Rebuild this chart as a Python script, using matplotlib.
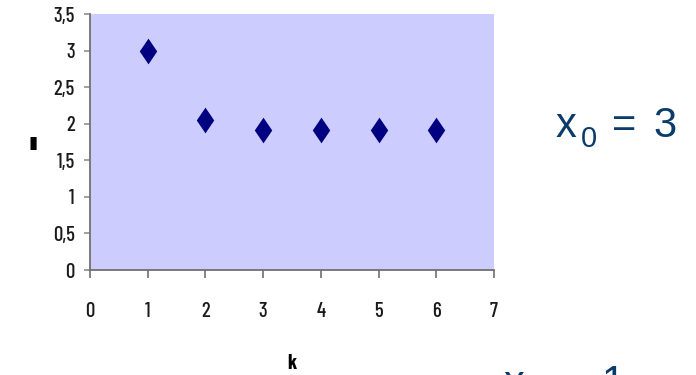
import matplotlib
matplotlib.use("Agg")
import matplotlib.pyplot as plt
from matplotlib.path import Path

# Newton iteration values x_k for k = 1..6
k_values = [1, 2, 3, 4, 5, 6]
x_values = [3.0, 2.05, 1.91, 1.91, 1.91, 1.91]

x_ticks = [0, 1, 2, 3, 4, 5, 6, 7]
y_ticks = [0, 0.5, 1, 1.5, 2, 2.5, 3, 3.5]
y_tick_labels = ["0", "0,5", "1", "1,5", "2", "2,5", "3", "3,5"]

tick_font = ["Barlow Condensed", "Liberation Sans", "DejaVu Sans"]
text_font = ["Liberation Sans", "DejaVu Sans"]
text_color = "#0B3B6B"

W, H = 696, 375
fig = plt.figure(figsize=(W / 100, H / 100), dpi=100)
ax = fig.add_axes([90 / W, 1 - 270 / H, (494 - 90) / W, (270 - 14) / H])
ax.set_facecolor("#CCCCFF")

diamond = Path([(0, 1), (0.68, 0), (0, -1), (-0.68, 0), (0, 1)],
               [Path.MOVETO, Path.LINETO, Path.LINETO, Path.LINETO, Path.CLOSEPOLY])
ax.plot(k_values, x_values, linestyle="none", marker=diamond, markersize=18.5,
        color="#000080", markeredgewidth=0)

ax.set_xlim(0, 7)
ax.set_ylim(0, 3.5)
ax.set_xticks(x_ticks)
ax.set_xticklabels([str(t) for t in x_ticks], fontfamily=tick_font, fontsize=15,
                   fontweight=500, color="#1a1a1a")
ax.set_yticks(y_ticks)
ax.set_yticklabels(y_tick_labels, fontfamily=tick_font, fontsize=15,
                   fontweight=500, color="#1a1a1a")

for side in ("top", "right"):
    ax.spines[side].set_visible(False)
for side in ("left", "bottom"):
    ax.spines[side].set_color("#707070")
    ax.spines[side].set_linewidth(1.3)

ax.tick_params(axis="x", direction="out", length=6, width=1.2, color="#707070", pad=17)
ax.tick_params(axis="y", direction="out", length=4, width=1.2, color="#909090", pad=7)

ax.set_xlabel("k", fontfamily=tick_font, fontsize=15, fontweight="bold")
ax.xaxis.set_label_coords(0.5, (270 - 354) / 256)
ax.set_ylabel("\u25AE", fontfamily=["DejaVu Sans"], fontsize=12, rotation=0,
              va="center", ha="center")
ax.yaxis.set_label_coords((33 - 90) / 404, (270 - 143) / 256)


def put(px, py, s, size):
    fig.text(px / W, 1 - py / H, s, fontfamily=text_font, fontsize=size,
             color=text_color, ha="left", va="baseline")


# x_0 = 3
put(556, 137, "x", 30)
put(581, 147, "0", 21)
put(612, 137, "=", 30)
put(653, 137, "3", 30)

# x_1 = 1 (runs past the lower edge)
put(504, 395, "x", 30)
put(529, 405, "1", 21)
put(560, 397, "=", 30)
put(602, 395, "1", 30)

fig.savefig("out.png", dpi=100)
